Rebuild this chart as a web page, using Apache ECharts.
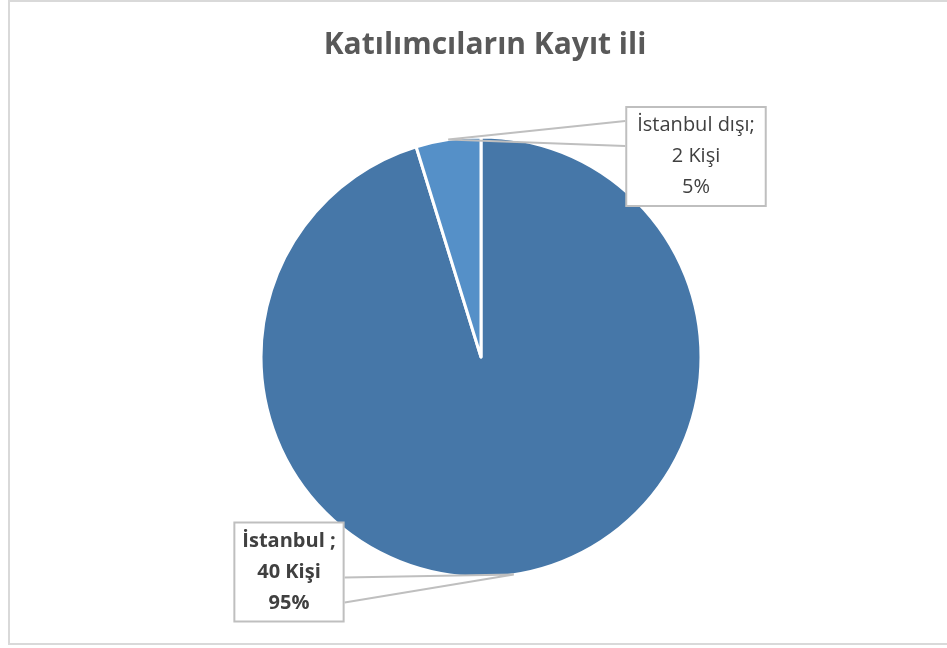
<!DOCTYPE html>
<html>
<head>
<meta charset="utf-8">
<script src="https://cdn.jsdelivr.net/npm/echarts@6/dist/echarts.min.js"></script>
<style>
html,body{margin:0;padding:0;background:#fff;}
#c{width:947px;height:648px;}
</style>
</head>
<body>
<div id="c"></div>
<script>
const titleText = 'Katılımcıların Kayıt ili';
const categories = ['İstanbul ', 'İstanbul dışı'];
const values = [40, 2];
const unit = 'Kişi';
const sliceColors = ['#4677a8', '#5590c8'];

// label box layout (centre of box, padding, and where the callout wedge meets the box edge, measured from box top)
const labelLayoutCfg = [
  {x: 289, y: 572, padding: [2, 7, 2, 7], bold: true, wedge: [56, 81]},
  {x: 696, y: 156.5, padding: [2, 10, 2, 10], bold: false, wedge: [15, 40]}
];

const chart = echarts.init(document.getElementById('c'), null, {renderer: 'canvas'});
const fontFam = '"Open Sans", Lato, sans-serif';

const pieCenter = [481, 357];
const pieRadius = [0, 220];

chart.setOption({
  backgroundColor: '#fff',
  animation: false,
  graphic: [{
    type: 'rect',
    shape: {x: 9, y: 1, width: 950, height: 643},
    style: {fill: 'none', stroke: '#d9d9d9', lineWidth: 2},
    silent: true,
    z: -1
  }],
  title: {
    text: titleText,
    left: 480,
    textAlign: 'center',
    top: 25,
    textStyle: {fontFamily: fontFam, fontSize: 30, fontWeight: 'bold', color: '#595959'}
  },
  series: [{
    // slices
    type: 'pie',
    z: 2,
    center: pieCenter,
    radius: pieRadius,
    startAngle: 90,
    clockwise: true,
    data: categories.map((c, i) => ({name: c, value: values[i], itemStyle: {color: sliceColors[i]}})),
    itemStyle: {borderColor: '#fff', borderWidth: 3},
    label: {show: false},
    labelLine: {show: false}
  }, {
    // callout labels drawn above the slices
    type: 'pie',
    z: 5,
    silent: true,
    center: pieCenter,
    radius: pieRadius,
    startAngle: 90,
    clockwise: true,
    avoidLabelOverlap: false,
    data: categories.map((c, i) => ({
      name: c, value: values[i],
      label: {
        fontWeight: labelLayoutCfg[i].bold ? 'bold' : 'normal',
        padding: labelLayoutCfg[i].padding
      }
    })),
    itemStyle: {color: 'rgba(0,0,0,0)', borderWidth: 0},
    label: {
      show: true,
      position: 'outside',
      formatter: p => p.name + ';\n' + p.value + ' ' + unit + '\n' + Math.round(p.percent) + '%',
      fontFamily: fontFam,
      fontSize: 20,
      lineHeight: 31,
      color: '#404040',
      align: 'center',
      backgroundColor: '#fff',
      borderColor: '#bfbfbf',
      borderWidth: 2
    },
    labelLine: {
      show: true,
      showAbove: true,
      length: 10,
      length2: 10,
      lineStyle: {color: '#bfbfbf', width: 2}
    },
    labelLayout: function (params) {
      const cfg = labelLayoutCfg[params.dataIndex];
      const w = params.labelRect.width, h = params.labelRect.height;
      const tip = params.labelLinePoints[0];
      const top = cfg.y - h / 2;
      const edgeX = tip[0] > cfg.x ? cfg.x + w / 2 : cfg.x - w / 2;
      return {
        x: cfg.x, y: cfg.y, align: 'center', verticalAlign: 'middle',
        labelLinePoints: [[edgeX, top + cfg.wedge[0]], [tip[0], tip[1]], [edgeX, top + cfg.wedge[1]]]
      };
    }
  }]
});
</script>
</body>
</html>
